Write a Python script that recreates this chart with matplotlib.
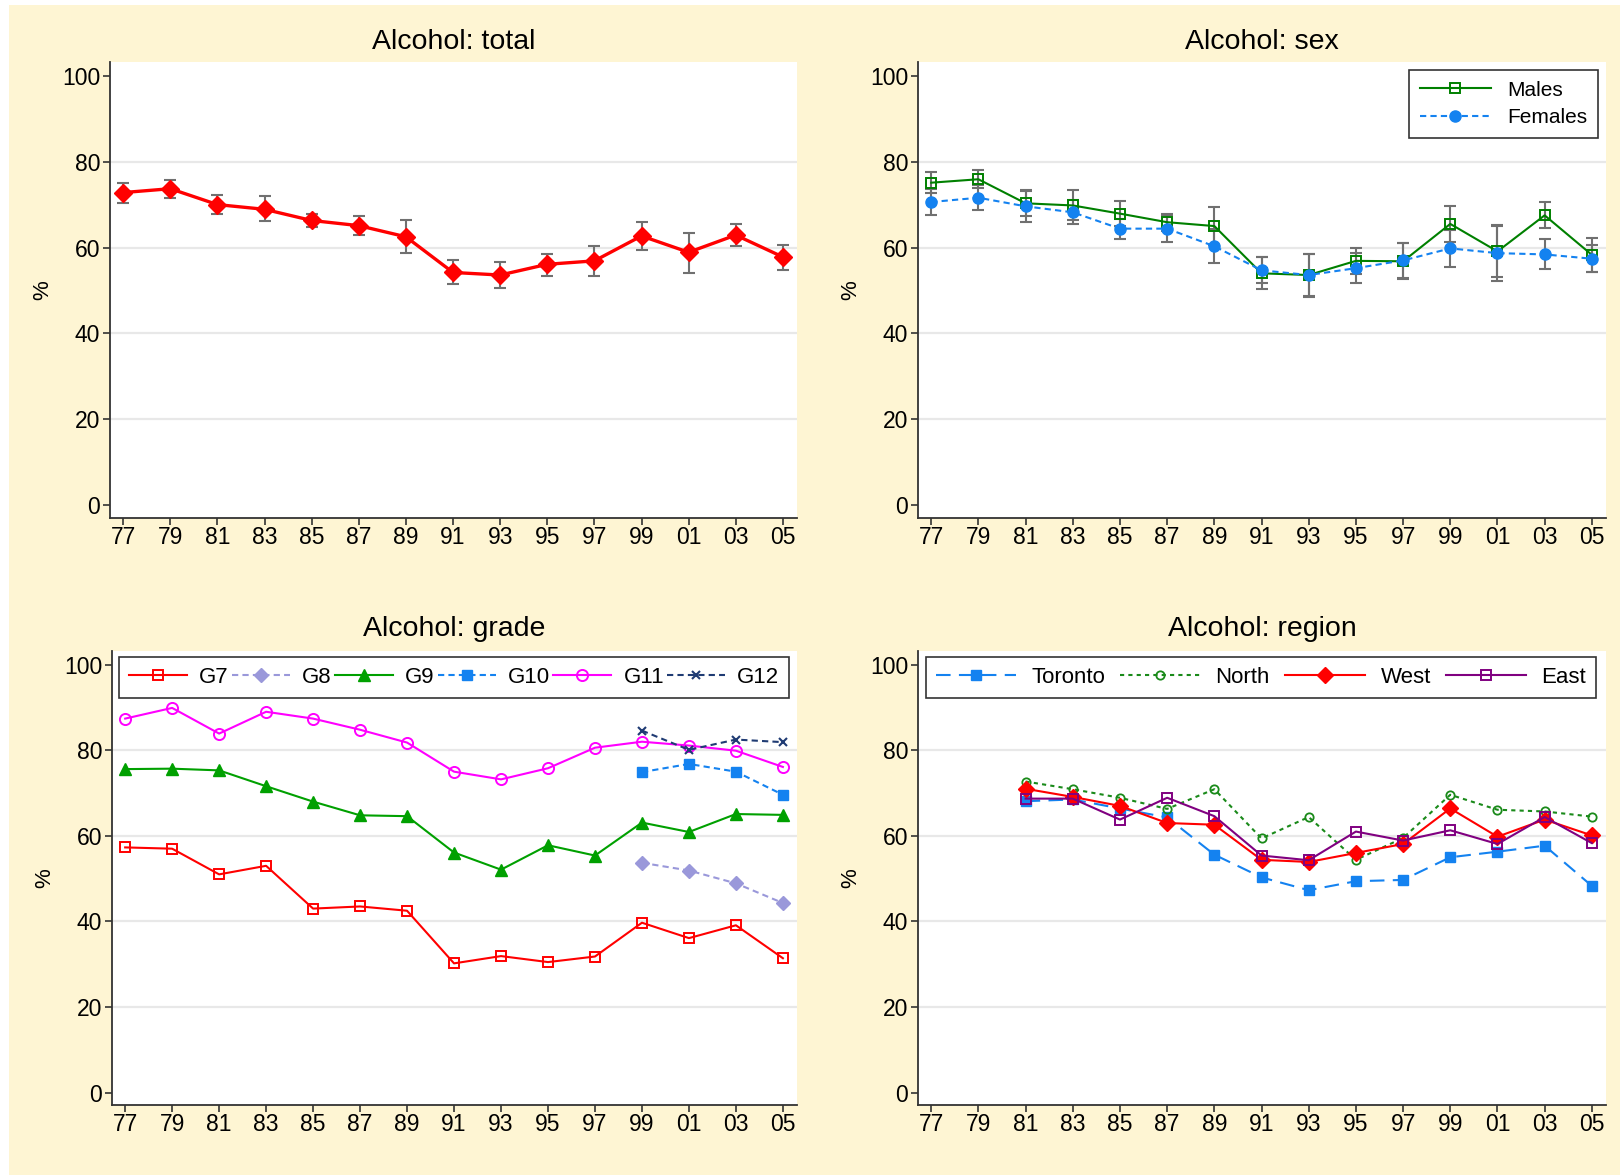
import numpy as np
import matplotlib
matplotlib.use('Agg')
import matplotlib.pyplot as plt
from matplotlib.patches import Rectangle

plt.rcParams['font.family'] = ['Liberation Sans', 'DejaVu Sans']

# survey years and axis labels
years = [1977, 1979, 1981, 1983, 1985, 1987, 1989, 1991, 1993, 1995, 1997, 1999, 2001, 2003, 2005]
year_labels = ['77', '79', '81', '83', '85', '87', '89', '91', '93', '95', '97', '99', '01', '03', '05']

# total, with confidence limits
total = [72.8, 73.7, 70.0, 68.9, 66.3, 65.1, 62.5, 54.2, 53.6, 56.1, 56.9, 62.7, 58.9, 62.9, 57.8]
total_hi = [75.1, 75.8, 72.3, 71.9, 67.9, 67.3, 66.4, 57.0, 56.6, 58.4, 60.4, 65.9, 63.5, 65.4, 60.5]
total_lo = [70.4, 71.6, 67.7, 66.1, 64.7, 63.0, 58.8, 51.6, 50.5, 53.4, 53.3, 59.4, 54.1, 60.3, 54.8]

# by sex
males = [75.1, 75.9, 70.3, 69.8, 67.9, 65.9, 65.0, 54.0, 53.6, 56.9, 56.8, 65.5, 59.1, 67.5, 58.3]
males_hi = [77.6, 78.0, 73.3, 73.3, 70.9, 67.9, 69.4, 57.7, 58.4, 60.0, 61.0, 69.6, 65.1, 70.5, 62.2]
males_lo = [72.6, 73.8, 67.3, 66.3, 64.9, 63.9, 60.6, 50.3, 48.8, 53.8, 52.6, 61.4, 53.1, 64.5, 54.4]
females = [70.6, 71.6, 69.6, 68.2, 64.4, 64.4, 60.3, 54.7, 53.6, 55.2, 57.0, 59.8, 58.7, 58.4, 57.4]
females_hi = [73.7, 74.5, 73.1, 71.0, 66.7, 67.6, 64.3, 57.7, 58.6, 58.7, 61.0, 64.1, 65.2, 62.0, 60.6]
females_lo = [67.5, 68.7, 65.9, 65.4, 62.1, 61.2, 56.3, 51.7, 48.6, 51.7, 53.0, 55.5, 52.2, 55.0, 54.2]

# by grade (G8, G10, G12 only surveyed from 1999)
g7 = [57.3, 57.0, 51.0, 53.0, 43.0, 43.5, 42.5, 30.2, 31.9, 30.5, 31.8, 39.7, 36.1, 39.1, 31.4]
g9 = [75.6, 75.7, 75.3, 71.6, 68.0, 64.8, 64.6, 56.1, 52.1, 57.8, 55.4, 63.1, 60.9, 65.1, 64.9]
g11 = [87.4, 89.9, 83.9, 89.0, 87.4, 84.8, 81.8, 75.0, 73.2, 75.8, 80.6, 82.0, 81.1, 79.9, 76.1]
late_years = [1999, 2001, 2003, 2005]
g8 = [53.7, 51.9, 48.9, 44.3]
g10 = [74.9, 76.8, 75.0, 69.6]
g12 = [84.6, 80.1, 82.5, 81.9]

# by region, from 1981
region_years = [1981, 1983, 1985, 1987, 1989, 1991, 1993, 1995, 1997, 1999, 2001, 2003, 2005]
toronto = [68.1, 68.5, 66.4, 64.3, 55.6, 50.3, 47.3, 49.4, 49.7, 55.0, 56.3, 57.7, 48.3]
north = [72.7, 70.9, 68.9, 66.3, 70.9, 59.4, 64.4, 54.4, 59.5, 69.6, 66.1, 65.7, 64.5]
west = [71.0, 69.1, 67.0, 63.0, 62.6, 54.4, 53.9, 56.0, 58.1, 66.4, 59.8, 63.8, 60.1]
east = [68.7, 68.7, 63.8, 68.9, 64.6, 55.4, 54.3, 61.0, 58.9, 61.3, 58.1, 64.4, 58.3]

W, H = 1620, 1176
fig = plt.figure(figsize=(W / 100, H / 100), dpi=100, facecolor='white')
fig.patches.append(Rectangle((9 / W, 1 / H), 1 - 9 / W, 1 - 6 / H, transform=fig.transFigure,
                             facecolor='#FEF5D3', edgecolor='none', zorder=-10))


def make_axes(left, right, top, bottom, title, title_y):
    ax = fig.add_axes([left / W, 1 - bottom / H, (right - left) / W, (bottom - top) / H])
    ax.set_facecolor('white')
    for s in ['top', 'right']:
        ax.spines[s].set_visible(False)
    for s in ['left', 'bottom']:
        ax.spines[s].set_color('#333333')
        ax.spines[s].set_linewidth(1.3)
    ax.set_xlim(1977 - 0.56, 2005 + 0.6)
    ax.set_ylim(-2.9, 103.2)
    ax.set_xticks(years)
    ax.set_xticklabels(year_labels)
    ax.set_yticks([0, 20, 40, 60, 80, 100])
    ax.tick_params(direction='out', length=5, width=1.2, color='#333333',
                   labelsize=16.5, pad=1)
    ax.tick_params(axis='y', pad=2)
    for g in [20, 40, 60, 80]:
        ax.axhline(g, color='#E8E8E8', lw=1.6, zorder=0)
    ax.set_ylabel('%', fontsize=16)
    ax.yaxis.set_label_coords(-0.083, 0.5)
    fig.text((left + right) / 2 / W, 1 - title_y / H, title, ha='center', va='center', fontsize=20.5)
    return ax


ERR = '#707070'

# total
ax1 = make_axes(110, 797, 62, 517.7, 'Alcohol: total', 42)
ax1.errorbar(years, total, yerr=[np.subtract(total, total_lo), np.subtract(total_hi, total)],
             color='#FF0000', lw=2.4, marker='D', ms=9.5, ecolor=ERR, elinewidth=1.5,
             capsize=4, capthick=1.5, zorder=3)

# sex
ax2 = make_axes(918, 1606, 62, 517.7, 'Alcohol: sex', 42)
ax2.errorbar(years, males, yerr=[np.subtract(males, males_lo), np.subtract(males_hi, males)],
             fmt='none', ecolor=ERR, elinewidth=1.5, capsize=4, capthick=1.5, zorder=2)
ax2.errorbar(years, females, yerr=[np.subtract(females, females_lo), np.subtract(females_hi, females)],
             fmt='none', ecolor=ERR, elinewidth=1.5, capsize=4, capthick=1.5, zorder=2)
ax2.plot(years, males, color='#008000', lw=1.5, marker='s', ms=7, mfc='none', mew=1.4,
         label='Males', zorder=3)
ax2.plot(years, females, color='#1482F0', lw=1.5, dashes=(3, 2), marker='o', ms=8,
         label='Females', zorder=3)
leg = ax2.legend(loc='upper right', bbox_to_anchor=(0.988, 0.982), fontsize=15, frameon=True,
                 fancybox=False, edgecolor='black', handlelength=3.4, numpoints=1,
                 borderpad=0.5, labelspacing=0.42, handletextpad=0.8, borderaxespad=0)
leg.get_frame().set_linewidth(1.2)

# grade
ax3 = make_axes(112, 797, 651, 1105, 'Alcohol: grade', 629)
ax3.plot(years, g7, color='#FF0000', lw=1.5, marker='s', ms=7, mfc='none', mew=1.4, label='G7')
ax3.plot(late_years, g8, color='#9A98DA', lw=1.5, dashes=(3, 2), marker='D', ms=7, label='G8')
ax3.plot(years, g9, color='#00A000', lw=1.5, marker='^', ms=9, label='G9')
ax3.plot(late_years, g10, color='#1482F0', lw=1.5, dashes=(3, 2), marker='s', ms=7, label='G10')
ax3.plot(years, g11, color='#FF00FF', lw=1.5, marker='o', ms=8, mfc='none', mew=1.4, label='G11')
ax3.plot(late_years, g12, color='#1F3B73', lw=1.5, dashes=(3, 2), marker='x', ms=6, mew=1.5, label='G12')
leg = ax3.legend(loc='upper left', bbox_to_anchor=(0.0105, 0.901, 0.9785, 0.086), mode='expand', ncol=6,
                 fontsize=16, frameon=True, fancybox=False, edgecolor='black', handlelength=2.6,
                 numpoints=1, borderpad=0.45, handletextpad=0.55, borderaxespad=0)
leg.get_frame().set_linewidth(1.2)

# region
ax4 = make_axes(918, 1606, 651, 1105, 'Alcohol: region', 629)
ax4.plot(region_years, toronto, color='#1482F0', lw=1.5, dashes=(7, 4), marker='s', ms=7, label='Toronto')
ax4.plot(region_years, north, color='#1A8A1A', lw=1.5, dashes=(2, 2), marker='o', ms=6, mfc='none',
         mew=1.3, label='North')
ax4.plot(region_years, west, color='#FF0000', lw=1.5, marker='D', ms=8, label='West')
ax4.plot(region_years, east, color='#800080', lw=1.5, marker='s', ms=7, mfc='none', mew=1.4, label='East')
leg = ax4.legend(loc='upper left', bbox_to_anchor=(0.011, 0.901, 0.975, 0.086), mode='expand', ncol=4,
                 fontsize=16, frameon=True, fancybox=False, edgecolor='black', handlelength=3.6,
                 numpoints=1, borderpad=0.45, handletextpad=0.7, borderaxespad=0)
leg.get_frame().set_linewidth(1.2)

fig.savefig('out.png', dpi=100, facecolor=fig.get_facecolor())
